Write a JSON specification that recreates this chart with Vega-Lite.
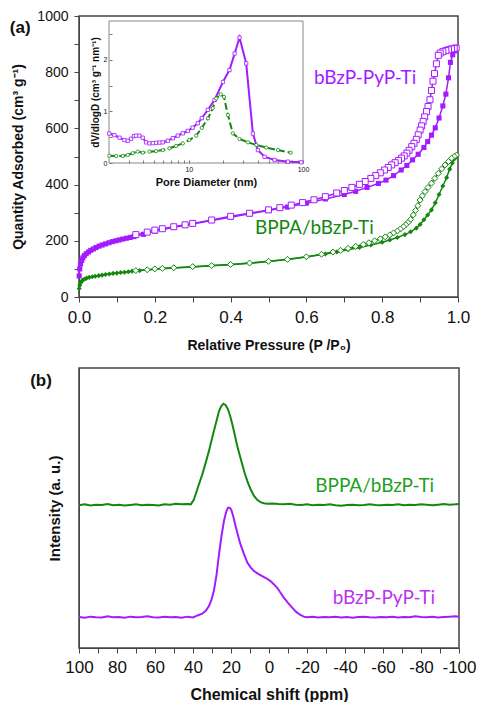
{
  "$schema": "https://vega.github.io/schema/vega-lite/v6.json",
  "padding": {"left": 9, "top": 8, "right": 0, "bottom": 0},
  "background": "white",
  "spacing": 14,
  "datasets": {
    "iso": [
      {"sample":"PyP","branch":"ads","p":0.0005,"q":75},{"sample":"PyP","branch":"ads","p":0.002,"q":100},{"sample":"PyP","branch":"ads","p":0.004,"q":118},{"sample":"PyP","branch":"ads","p":0.007,"q":130},{"sample":"PyP","branch":"ads","p":0.01,"q":139},{"sample":"PyP","branch":"ads","p":0.014,"q":147},{"sample":"PyP","branch":"ads","p":0.019,"q":154},{"sample":"PyP","branch":"ads","p":0.025,"q":160},{"sample":"PyP","branch":"ads","p":0.031,"q":166},{"sample":"PyP","branch":"ads","p":0.038,"q":171},{"sample":"PyP","branch":"ads","p":0.045,"q":176},{"sample":"PyP","branch":"ads","p":0.053,"q":181},{"sample":"PyP","branch":"ads","p":0.061,"q":185},{"sample":"PyP","branch":"ads","p":0.07,"q":189},{"sample":"PyP","branch":"ads","p":0.079,"q":193},{"sample":"PyP","branch":"ads","p":0.088,"q":197},{"sample":"PyP","branch":"ads","p":0.097,"q":200},{"sample":"PyP","branch":"ads","p":0.106,"q":203},{"sample":"PyP","branch":"ads","p":0.115,"q":206},{"sample":"PyP","branch":"ads","p":0.125,"q":209},{"sample":"PyP","branch":"ads","p":0.135,"q":212},{"sample":"PyP","branch":"ads","p":0.145,"q":215},{"sample":"PyP","branch":"ads","p":0.17,"q":223},{"sample":"PyP","branch":"ads","p":0.2,"q":234},{"sample":"PyP","branch":"ads","p":0.25,"q":248},{"sample":"PyP","branch":"ads","p":0.3,"q":260},{"sample":"PyP","branch":"ads","p":0.35,"q":272},{"sample":"PyP","branch":"ads","p":0.4,"q":284},{"sample":"PyP","branch":"ads","p":0.45,"q":296},{"sample":"PyP","branch":"ads","p":0.5,"q":308},{"sample":"PyP","branch":"ads","p":0.55,"q":320},{"sample":"PyP","branch":"ads","p":0.6,"q":334},{"sample":"PyP","branch":"ads","p":0.65,"q":349},{"sample":"PyP","branch":"ads","p":0.7,"q":365},{"sample":"PyP","branch":"ads","p":0.73,"q":376},{"sample":"PyP","branch":"ads","p":0.76,"q":390},{"sample":"PyP","branch":"ads","p":0.79,"q":404},{"sample":"PyP","branch":"ads","p":0.81,"q":416},{"sample":"PyP","branch":"ads","p":0.83,"q":432},{"sample":"PyP","branch":"ads","p":0.85,"q":452},{"sample":"PyP","branch":"ads","p":0.865,"q":468},{"sample":"PyP","branch":"ads","p":0.88,"q":488},{"sample":"PyP","branch":"ads","p":0.895,"q":508},{"sample":"PyP","branch":"ads","p":0.91,"q":532},{"sample":"PyP","branch":"ads","p":0.92,"q":553},{"sample":"PyP","branch":"ads","p":0.93,"q":576},{"sample":"PyP","branch":"ads","p":0.94,"q":602},{"sample":"PyP","branch":"ads","p":0.95,"q":637},{"sample":"PyP","branch":"ads","p":0.96,"q":680},{"sample":"PyP","branch":"ads","p":0.968,"q":722},{"sample":"PyP","branch":"ads","p":0.975,"q":780},{"sample":"PyP","branch":"ads","p":0.98,"q":835},{"sample":"PyP","branch":"ads","p":0.986,"q":862},{"sample":"PyP","branch":"ads","p":0.992,"q":876},
      {"sample":"PyP","branch":"des","p":0.995,"q":886},{"sample":"PyP","branch":"des","p":0.99,"q":885},{"sample":"PyP","branch":"des","p":0.983,"q":883},{"sample":"PyP","branch":"des","p":0.975,"q":880},{"sample":"PyP","branch":"des","p":0.968,"q":877},{"sample":"PyP","branch":"des","p":0.96,"q":873},{"sample":"PyP","branch":"des","p":0.953,"q":868},{"sample":"PyP","branch":"des","p":0.948,"q":860},{"sample":"PyP","branch":"des","p":0.943,"q":830},{"sample":"PyP","branch":"des","p":0.938,"q":795},{"sample":"PyP","branch":"des","p":0.934,"q":768},{"sample":"PyP","branch":"des","p":0.93,"q":735},{"sample":"PyP","branch":"des","p":0.926,"q":702},{"sample":"PyP","branch":"des","p":0.921,"q":678},{"sample":"PyP","branch":"des","p":0.917,"q":660},{"sample":"PyP","branch":"des","p":0.912,"q":641},{"sample":"PyP","branch":"des","p":0.908,"q":625},{"sample":"PyP","branch":"des","p":0.904,"q":609},{"sample":"PyP","branch":"des","p":0.9,"q":594},{"sample":"PyP","branch":"des","p":0.895,"q":577},{"sample":"PyP","branch":"des","p":0.89,"q":561},{"sample":"PyP","branch":"des","p":0.884,"q":547},{"sample":"PyP","branch":"des","p":0.878,"q":535},{"sample":"PyP","branch":"des","p":0.871,"q":522},{"sample":"PyP","branch":"des","p":0.865,"q":512},{"sample":"PyP","branch":"des","p":0.858,"q":502},{"sample":"PyP","branch":"des","p":0.851,"q":494},{"sample":"PyP","branch":"des","p":0.843,"q":486},{"sample":"PyP","branch":"des","p":0.834,"q":478},{"sample":"PyP","branch":"des","p":0.825,"q":470},{"sample":"PyP","branch":"des","p":0.816,"q":461},{"sample":"PyP","branch":"des","p":0.806,"q":452},{"sample":"PyP","branch":"des","p":0.795,"q":442},{"sample":"PyP","branch":"des","p":0.783,"q":432},{"sample":"PyP","branch":"des","p":0.77,"q":422},{"sample":"PyP","branch":"des","p":0.755,"q":411},{"sample":"PyP","branch":"des","p":0.74,"q":401},{"sample":"PyP","branch":"des","p":0.72,"q":390},{"sample":"PyP","branch":"des","p":0.7,"q":379},{"sample":"PyP","branch":"des","p":0.68,"q":370},{"sample":"PyP","branch":"des","p":0.65,"q":357},{"sample":"PyP","branch":"des","p":0.62,"q":346},{"sample":"PyP","branch":"des","p":0.59,"q":336},{"sample":"PyP","branch":"des","p":0.56,"q":327},{"sample":"PyP","branch":"des","p":0.53,"q":318},{"sample":"PyP","branch":"des","p":0.5,"q":310},{"sample":"PyP","branch":"des","p":0.45,"q":298},{"sample":"PyP","branch":"des","p":0.4,"q":287},{"sample":"PyP","branch":"des","p":0.35,"q":274},{"sample":"PyP","branch":"des","p":0.3,"q":262},{"sample":"PyP","branch":"des","p":0.28,"q":257},{"sample":"PyP","branch":"des","p":0.25,"q":250},{"sample":"PyP","branch":"des","p":0.22,"q":243},{"sample":"PyP","branch":"des","p":0.2,"q":238},{"sample":"PyP","branch":"des","p":0.18,"q":231},{"sample":"PyP","branch":"des","p":0.15,"q":222},
      {"sample":"BPPA","branch":"ads","p":0.0005,"q":30},{"sample":"BPPA","branch":"ads","p":0.002,"q":42},{"sample":"BPPA","branch":"ads","p":0.004,"q":50},{"sample":"BPPA","branch":"ads","p":0.007,"q":56},{"sample":"BPPA","branch":"ads","p":0.01,"q":60},{"sample":"BPPA","branch":"ads","p":0.015,"q":64},{"sample":"BPPA","branch":"ads","p":0.02,"q":67},{"sample":"BPPA","branch":"ads","p":0.027,"q":70},{"sample":"BPPA","branch":"ads","p":0.035,"q":72},{"sample":"BPPA","branch":"ads","p":0.043,"q":74},{"sample":"BPPA","branch":"ads","p":0.052,"q":76},{"sample":"BPPA","branch":"ads","p":0.061,"q":78},{"sample":"BPPA","branch":"ads","p":0.07,"q":80},{"sample":"BPPA","branch":"ads","p":0.08,"q":82},{"sample":"BPPA","branch":"ads","p":0.09,"q":84},{"sample":"BPPA","branch":"ads","p":0.1,"q":85},{"sample":"BPPA","branch":"ads","p":0.11,"q":87},{"sample":"BPPA","branch":"ads","p":0.12,"q":88},{"sample":"BPPA","branch":"ads","p":0.13,"q":90},{"sample":"BPPA","branch":"ads","p":0.14,"q":92},{"sample":"BPPA","branch":"ads","p":0.16,"q":94},{"sample":"BPPA","branch":"ads","p":0.18,"q":96},{"sample":"BPPA","branch":"ads","p":0.2,"q":99},{"sample":"BPPA","branch":"ads","p":0.25,"q":103},{"sample":"BPPA","branch":"ads","p":0.3,"q":107},{"sample":"BPPA","branch":"ads","p":0.35,"q":111},{"sample":"BPPA","branch":"ads","p":0.4,"q":115},{"sample":"BPPA","branch":"ads","p":0.45,"q":120},{"sample":"BPPA","branch":"ads","p":0.5,"q":126},{"sample":"BPPA","branch":"ads","p":0.55,"q":133},{"sample":"BPPA","branch":"ads","p":0.6,"q":142},{"sample":"BPPA","branch":"ads","p":0.65,"q":153},{"sample":"BPPA","branch":"ads","p":0.68,"q":160},{"sample":"BPPA","branch":"ads","p":0.71,"q":168},{"sample":"BPPA","branch":"ads","p":0.74,"q":176},{"sample":"BPPA","branch":"ads","p":0.77,"q":185},{"sample":"BPPA","branch":"ads","p":0.8,"q":195},{"sample":"BPPA","branch":"ads","p":0.82,"q":203},{"sample":"BPPA","branch":"ads","p":0.84,"q":212},{"sample":"BPPA","branch":"ads","p":0.86,"q":222},{"sample":"BPPA","branch":"ads","p":0.875,"q":232},{"sample":"BPPA","branch":"ads","p":0.89,"q":245},{"sample":"BPPA","branch":"ads","p":0.9,"q":258},{"sample":"BPPA","branch":"ads","p":0.91,"q":275},{"sample":"BPPA","branch":"ads","p":0.92,"q":292},{"sample":"BPPA","branch":"ads","p":0.93,"q":310},{"sample":"BPPA","branch":"ads","p":0.94,"q":335},{"sample":"BPPA","branch":"ads","p":0.95,"q":365},{"sample":"BPPA","branch":"ads","p":0.96,"q":395},{"sample":"BPPA","branch":"ads","p":0.97,"q":425},{"sample":"BPPA","branch":"ads","p":0.978,"q":455},{"sample":"BPPA","branch":"ads","p":0.985,"q":477},{"sample":"BPPA","branch":"ads","p":0.991,"q":492},{"sample":"BPPA","branch":"ads","p":0.996,"q":500},
      {"sample":"BPPA","branch":"des","p":0.996,"q":505},{"sample":"BPPA","branch":"des","p":0.99,"q":500},{"sample":"BPPA","branch":"des","p":0.983,"q":494},{"sample":"BPPA","branch":"des","p":0.975,"q":482},{"sample":"BPPA","branch":"des","p":0.966,"q":470},{"sample":"BPPA","branch":"des","p":0.957,"q":456},{"sample":"BPPA","branch":"des","p":0.948,"q":440},{"sample":"BPPA","branch":"des","p":0.939,"q":422},{"sample":"BPPA","branch":"des","p":0.93,"q":405},{"sample":"BPPA","branch":"des","p":0.921,"q":390},{"sample":"BPPA","branch":"des","p":0.913,"q":375},{"sample":"BPPA","branch":"des","p":0.906,"q":360},{"sample":"BPPA","branch":"des","p":0.9,"q":345},{"sample":"BPPA","branch":"des","p":0.894,"q":325},{"sample":"BPPA","branch":"des","p":0.888,"q":308},{"sample":"BPPA","branch":"des","p":0.882,"q":292},{"sample":"BPPA","branch":"des","p":0.875,"q":276},{"sample":"BPPA","branch":"des","p":0.868,"q":265},{"sample":"BPPA","branch":"des","p":0.862,"q":257},{"sample":"BPPA","branch":"des","p":0.856,"q":250},{"sample":"BPPA","branch":"des","p":0.848,"q":242},{"sample":"BPPA","branch":"des","p":0.84,"q":235},{"sample":"BPPA","branch":"des","p":0.83,"q":228},{"sample":"BPPA","branch":"des","p":0.82,"q":221},{"sample":"BPPA","branch":"des","p":0.808,"q":214},{"sample":"BPPA","branch":"des","p":0.795,"q":207},{"sample":"BPPA","branch":"des","p":0.78,"q":200},{"sample":"BPPA","branch":"des","p":0.765,"q":193},{"sample":"BPPA","branch":"des","p":0.75,"q":187},{"sample":"BPPA","branch":"des","p":0.73,"q":180},{"sample":"BPPA","branch":"des","p":0.71,"q":173},{"sample":"BPPA","branch":"des","p":0.69,"q":166},{"sample":"BPPA","branch":"des","p":0.67,"q":160},{"sample":"BPPA","branch":"des","p":0.64,"q":152},{"sample":"BPPA","branch":"des","p":0.6,"q":143},{"sample":"BPPA","branch":"des","p":0.55,"q":134},{"sample":"BPPA","branch":"des","p":0.5,"q":127},{"sample":"BPPA","branch":"des","p":0.45,"q":121},{"sample":"BPPA","branch":"des","p":0.4,"q":116},{"sample":"BPPA","branch":"des","p":0.35,"q":112},{"sample":"BPPA","branch":"des","p":0.3,"q":108},{"sample":"BPPA","branch":"des","p":0.25,"q":104},{"sample":"BPPA","branch":"des","p":0.22,"q":102},{"sample":"BPPA","branch":"des","p":0.2,"q":100},{"sample":"BPPA","branch":"des","p":0.18,"q":97},{"sample":"BPPA","branch":"des","p":0.15,"q":94}
    ],
    "psd": [
      {"sample":"PyP","d":2.01,"v":0.57},{"sample":"PyP","d":2.23,"v":0.54},{"sample":"PyP","d":2.47,"v":0.49},{"sample":"PyP","d":2.73,"v":0.445},{"sample":"PyP","d":2.92,"v":0.43},{"sample":"PyP","d":3.12,"v":0.47},{"sample":"PyP","d":3.3,"v":0.52},{"sample":"PyP","d":3.45,"v":0.53},{"sample":"PyP","d":3.69,"v":0.53},{"sample":"PyP","d":3.95,"v":0.49},{"sample":"PyP","d":4.22,"v":0.4},{"sample":"PyP","d":4.52,"v":0.38},{"sample":"PyP","d":4.85,"v":0.385},{"sample":"PyP","d":5.17,"v":0.39},{"sample":"PyP","d":5.55,"v":0.395},{"sample":"PyP","d":5.91,"v":0.4},{"sample":"PyP","d":6.55,"v":0.43},{"sample":"PyP","d":7.25,"v":0.48},{"sample":"PyP","d":8.01,"v":0.53},{"sample":"PyP","d":8.86,"v":0.575},{"sample":"PyP","d":9.8,"v":0.62},{"sample":"PyP","d":10.8,"v":0.685},{"sample":"PyP","d":12.0,"v":0.77},{"sample":"PyP","d":13.0,"v":0.87},{"sample":"PyP","d":14.7,"v":1.03},{"sample":"PyP","d":16.8,"v":1.22},{"sample":"PyP","d":19.9,"v":1.57},{"sample":"PyP","d":22.7,"v":1.8},{"sample":"PyP","d":25.2,"v":2.12},{"sample":"PyP","d":27.8,"v":2.43},{"sample":"PyP","d":31.8,"v":1.93},{"sample":"PyP","d":36.4,"v":0.57},{"sample":"PyP","d":40.3,"v":0.25},{"sample":"PyP","d":46.1,"v":0.12},{"sample":"PyP","d":56.4,"v":0.058},{"sample":"PyP","d":73.8,"v":0.026},{"sample":"PyP","d":96.6,"v":0.013},
      {"sample":"BPPA","d":2.01,"v":0.14},{"sample":"BPPA","d":2.31,"v":0.135},{"sample":"BPPA","d":2.64,"v":0.135},{"sample":"BPPA","d":2.92,"v":0.155},{"sample":"BPPA","d":3.23,"v":0.19},{"sample":"BPPA","d":3.57,"v":0.22},{"sample":"BPPA","d":3.95,"v":0.2},{"sample":"BPPA","d":4.52,"v":0.22},{"sample":"BPPA","d":5.17,"v":0.23},{"sample":"BPPA","d":5.91,"v":0.25},{"sample":"BPPA","d":6.76,"v":0.285},{"sample":"BPPA","d":7.74,"v":0.33},{"sample":"BPPA","d":8.86,"v":0.38},{"sample":"BPPA","d":10.1,"v":0.445},{"sample":"BPPA","d":11.6,"v":0.53},{"sample":"BPPA","d":13.0,"v":0.68},{"sample":"BPPA","d":14.7,"v":0.865},{"sample":"BPPA","d":16.2,"v":1.06},{"sample":"BPPA","d":17.4,"v":1.25},{"sample":"BPPA","d":19.0,"v":1.33},{"sample":"BPPA","d":20.3,"v":1.28},{"sample":"BPPA","d":22.0,"v":0.93},{"sample":"BPPA","d":24.3,"v":0.574},{"sample":"BPPA","d":27.8,"v":0.465},{"sample":"BPPA","d":33.0,"v":0.4},{"sample":"BPPA","d":39.0,"v":0.35},{"sample":"BPPA","d":47.7,"v":0.3},{"sample":"BPPA","d":60.4,"v":0.25},{"sample":"BPPA","d":78.0,"v":0.2}
    ],
    "nmr": [
      {"sample":"BPPA","ppm":100,"i":0.51},{"sample":"BPPA","ppm":97,"i":0.513},{"sample":"BPPA","ppm":94,"i":0.509},{"sample":"BPPA","ppm":91,"i":0.512},{"sample":"BPPA","ppm":88,"i":0.511},{"sample":"BPPA","ppm":85,"i":0.514},{"sample":"BPPA","ppm":82,"i":0.51},{"sample":"BPPA","ppm":79,"i":0.512},{"sample":"BPPA","ppm":76,"i":0.509},{"sample":"BPPA","ppm":73,"i":0.511},{"sample":"BPPA","ppm":70,"i":0.513},{"sample":"BPPA","ppm":67,"i":0.51},{"sample":"BPPA","ppm":64,"i":0.512},{"sample":"BPPA","ppm":61,"i":0.511},{"sample":"BPPA","ppm":58,"i":0.509},{"sample":"BPPA","ppm":55,"i":0.513},{"sample":"BPPA","ppm":52,"i":0.512},{"sample":"BPPA","ppm":49,"i":0.515},{"sample":"BPPA","ppm":46,"i":0.513},{"sample":"BPPA","ppm":43,"i":0.514},{"sample":"BPPA","ppm":41.2,"i":0.513},{"sample":"BPPA","ppm":39.5,"i":0.53},{"sample":"BPPA","ppm":38.6,"i":0.549},{"sample":"BPPA","ppm":37,"i":0.582},{"sample":"BPPA","ppm":35.1,"i":0.62},{"sample":"BPPA","ppm":33.3,"i":0.662},{"sample":"BPPA","ppm":31.6,"i":0.704},{"sample":"BPPA","ppm":30.3,"i":0.74},{"sample":"BPPA","ppm":29,"i":0.775},{"sample":"BPPA","ppm":27.6,"i":0.812},{"sample":"BPPA","ppm":26.3,"i":0.846},{"sample":"BPPA","ppm":25,"i":0.865},{"sample":"BPPA","ppm":24,"i":0.8725},{"sample":"BPPA","ppm":22.8,"i":0.867},{"sample":"BPPA","ppm":21.6,"i":0.8525},{"sample":"BPPA","ppm":20.4,"i":0.828},{"sample":"BPPA","ppm":19.3,"i":0.799},{"sample":"BPPA","ppm":18,"i":0.761},{"sample":"BPPA","ppm":16.7,"i":0.721},{"sample":"BPPA","ppm":15.4,"i":0.688},{"sample":"BPPA","ppm":14.1,"i":0.656},{"sample":"BPPA","ppm":12.8,"i":0.625},{"sample":"BPPA","ppm":11.4,"i":0.596},{"sample":"BPPA","ppm":9.7,"i":0.567},{"sample":"BPPA","ppm":7.9,"i":0.543},{"sample":"BPPA","ppm":6.2,"i":0.529},{"sample":"BPPA","ppm":4.5,"i":0.521},{"sample":"BPPA","ppm":2.7,"i":0.517},{"sample":"BPPA","ppm":1,"i":0.515},{"sample":"BPPA","ppm":-2,"i":0.516},{"sample":"BPPA","ppm":-5,"i":0.514},{"sample":"BPPA","ppm":-8,"i":0.513},{"sample":"BPPA","ppm":-11,"i":0.515},{"sample":"BPPA","ppm":-14,"i":0.512},{"sample":"BPPA","ppm":-17,"i":0.511},{"sample":"BPPA","ppm":-20,"i":0.513},{"sample":"BPPA","ppm":-23,"i":0.51},{"sample":"BPPA","ppm":-26,"i":0.512},{"sample":"BPPA","ppm":-29,"i":0.511},{"sample":"BPPA","ppm":-32,"i":0.513},{"sample":"BPPA","ppm":-35,"i":0.51},{"sample":"BPPA","ppm":-38,"i":0.508},{"sample":"BPPA","ppm":-41,"i":0.511},{"sample":"BPPA","ppm":-44,"i":0.512},{"sample":"BPPA","ppm":-47,"i":0.51},{"sample":"BPPA","ppm":-50,"i":0.511},{"sample":"BPPA","ppm":-53,"i":0.513},{"sample":"BPPA","ppm":-56,"i":0.511},{"sample":"BPPA","ppm":-59,"i":0.51},{"sample":"BPPA","ppm":-62,"i":0.512},{"sample":"BPPA","ppm":-65,"i":0.511},{"sample":"BPPA","ppm":-68,"i":0.513},{"sample":"BPPA","ppm":-71,"i":0.51},{"sample":"BPPA","ppm":-74,"i":0.512},{"sample":"BPPA","ppm":-77,"i":0.511},{"sample":"BPPA","ppm":-80,"i":0.513},{"sample":"BPPA","ppm":-83,"i":0.512},{"sample":"BPPA","ppm":-86,"i":0.51},{"sample":"BPPA","ppm":-89,"i":0.512},{"sample":"BPPA","ppm":-92,"i":0.514},{"sample":"BPPA","ppm":-95,"i":0.512},{"sample":"BPPA","ppm":-98,"i":0.513},{"sample":"BPPA","ppm":-100,"i":0.514},
      {"sample":"PyP","ppm":100,"i":0.111},{"sample":"PyP","ppm":97,"i":0.108},{"sample":"PyP","ppm":94,"i":0.112},{"sample":"PyP","ppm":91,"i":0.11},{"sample":"PyP","ppm":88,"i":0.109},{"sample":"PyP","ppm":85,"i":0.113},{"sample":"PyP","ppm":82,"i":0.11},{"sample":"PyP","ppm":79,"i":0.111},{"sample":"PyP","ppm":76,"i":0.108},{"sample":"PyP","ppm":73,"i":0.112},{"sample":"PyP","ppm":70,"i":0.11},{"sample":"PyP","ppm":67,"i":0.111},{"sample":"PyP","ppm":64,"i":0.113},{"sample":"PyP","ppm":61,"i":0.11},{"sample":"PyP","ppm":58,"i":0.109},{"sample":"PyP","ppm":55,"i":0.112},{"sample":"PyP","ppm":52,"i":0.11},{"sample":"PyP","ppm":49,"i":0.111},{"sample":"PyP","ppm":46,"i":0.108},{"sample":"PyP","ppm":43,"i":0.112},{"sample":"PyP","ppm":40,"i":0.109},{"sample":"PyP","ppm":38.5,"i":0.114},{"sample":"PyP","ppm":37,"i":0.118},{"sample":"PyP","ppm":35.1,"i":0.1225},{"sample":"PyP","ppm":33.3,"i":0.133},{"sample":"PyP","ppm":31.6,"i":0.15},{"sample":"PyP","ppm":30.3,"i":0.172},{"sample":"PyP","ppm":29,"i":0.204},{"sample":"PyP","ppm":27.6,"i":0.262},{"sample":"PyP","ppm":26.3,"i":0.335},{"sample":"PyP","ppm":25,"i":0.4},{"sample":"PyP","ppm":23.7,"i":0.454},{"sample":"PyP","ppm":22.6,"i":0.485},{"sample":"PyP","ppm":21.6,"i":0.501},{"sample":"PyP","ppm":20.7,"i":0.501},{"sample":"PyP","ppm":19.9,"i":0.495},{"sample":"PyP","ppm":18.8,"i":0.47},{"sample":"PyP","ppm":17.6,"i":0.436},{"sample":"PyP","ppm":16.3,"i":0.402},{"sample":"PyP","ppm":15,"i":0.37},{"sample":"PyP","ppm":13.2,"i":0.336},{"sample":"PyP","ppm":11.4,"i":0.305},{"sample":"PyP","ppm":9.6,"i":0.287},{"sample":"PyP","ppm":7.9,"i":0.275},{"sample":"PyP","ppm":5.7,"i":0.265},{"sample":"PyP","ppm":3.6,"i":0.257},{"sample":"PyP","ppm":1.4,"i":0.249},{"sample":"PyP","ppm":-0.8,"i":0.239},{"sample":"PyP","ppm":-2.5,"i":0.228},{"sample":"PyP","ppm":-4.3,"i":0.215},{"sample":"PyP","ppm":-6,"i":0.198},{"sample":"PyP","ppm":-7.8,"i":0.18},{"sample":"PyP","ppm":-10,"i":0.161},{"sample":"PyP","ppm":-12.2,"i":0.144},{"sample":"PyP","ppm":-14.3,"i":0.129},{"sample":"PyP","ppm":-16.5,"i":0.118},{"sample":"PyP","ppm":-18.3,"i":0.112},{"sample":"PyP","ppm":-20,"i":0.11},{"sample":"PyP","ppm":-23,"i":0.112},{"sample":"PyP","ppm":-26,"i":0.109},{"sample":"PyP","ppm":-29,"i":0.111},{"sample":"PyP","ppm":-32,"i":0.11},{"sample":"PyP","ppm":-35,"i":0.112},{"sample":"PyP","ppm":-38,"i":0.109},{"sample":"PyP","ppm":-41,"i":0.111},{"sample":"PyP","ppm":-44,"i":0.108},{"sample":"PyP","ppm":-47,"i":0.111},{"sample":"PyP","ppm":-50,"i":0.112},{"sample":"PyP","ppm":-53,"i":0.11},{"sample":"PyP","ppm":-56,"i":0.109},{"sample":"PyP","ppm":-59,"i":0.111},{"sample":"PyP","ppm":-62,"i":0.11},{"sample":"PyP","ppm":-65,"i":0.112},{"sample":"PyP","ppm":-68,"i":0.109},{"sample":"PyP","ppm":-71,"i":0.111},{"sample":"PyP","ppm":-74,"i":0.11},{"sample":"PyP","ppm":-77,"i":0.113},{"sample":"PyP","ppm":-80,"i":0.111},{"sample":"PyP","ppm":-83,"i":0.11},{"sample":"PyP","ppm":-86,"i":0.112},{"sample":"PyP","ppm":-89,"i":0.109},{"sample":"PyP","ppm":-92,"i":0.111},{"sample":"PyP","ppm":-95,"i":0.112},{"sample":"PyP","ppm":-98,"i":0.113},{"sample":"PyP","ppm":-100,"i":0.112}
    ],
    "labelsA": [
      {"sample":"PyP","label":"bBzP-PyP-Ti","p":0.755,"q":779},
      {"sample":"BPPA","label":"BPPA/bBzP-Ti","p":0.621,"q":247}
    ],
    "labelsB": [
      {"sample":"BPPA","label":"BPPA/bBzP-Ti","ppm":-86.9,"i":0.579},
      {"sample":"PyP","label":"bBzP-PyP-Ti","ppm":-87.4,"i":0.1775}
    ]
  },
  "vconcat": [
    {
      "width": 379,
      "height": 281,
      "layer": [
        {
          "encoding": {
            "x": {"field": "p", "type": "quantitative", "scale": {"domain": [0, 1]},
              "axis": {"values": [0,0.1,0.2,0.3,0.4,0.5,0.6,0.7,0.8,0.9,1], "labelExpr": "round(datum.value*10)%2==0 ? format(datum.value,'.1f') : ''", "title": "Relative Pressure (P /P₀)", "labelFontSize": 17, "labelPadding": 7, "titlePadding": 13}},
            "y": {"field": "q", "type": "quantitative", "scale": {"domain": [0, 1000]},
              "axis": {"values": [0,100,200,300,400,500,600,700,800,900,1000], "labelExpr": "datum.value%200==0 ? datum.value : ''", "title": "Quantity Adsorbed (cm³ g⁻¹)", "labelFontSize": 14, "labelPadding": 6, "titlePadding": 11}}
          },
          "layer": [
            {"data": {"name": "iso"}, "mark": {"type": "line", "strokeWidth": 1.5},
              "encoding": {"color": {"field": "sample", "type": "nominal", "scale": {"domain": ["PyP", "BPPA"], "range": ["#a31cff", "#14870f"]}, "legend": null}, "detail": {"field": "branch"}}},
            {"data": {"name": "iso"}, "transform": [{"filter": "datum.branch=='ads'"}], "mark": {"type": "point", "filled": true, "size": 26, "opacity": 1},
              "encoding": {"color": {"field": "sample", "type": "nominal", "scale": {"domain": ["PyP", "BPPA"], "range": ["#a31cff", "#14870f"]}, "legend": null}, "shape": {"field": "sample", "type": "nominal", "scale": {"domain": ["PyP", "BPPA"], "range": ["square", "diamond"]}, "legend": null}}},
            {"data": {"name": "iso"}, "transform": [{"filter": "datum.branch=='des'"}], "mark": {"type": "point", "filled": false, "fill": "white", "size": 36, "strokeWidth": 1, "opacity": 1},
              "encoding": {"color": {"field": "sample", "type": "nominal", "scale": {"domain": ["PyP", "BPPA"], "range": ["#a31cff", "#14870f"]}, "legend": null}, "shape": {"field": "sample", "type": "nominal", "scale": {"domain": ["PyP", "BPPA"], "range": ["square", "diamond"]}, "legend": null}}},
            {"data": {"name": "labelsA"}, "mark": {"type": "text", "font": "Lato", "fontSize": 19, "align": "center", "baseline": "middle"},
              "encoding": {"text": {"field": "label"}, "color": {"field": "sample", "type": "nominal", "scale": {"domain": ["PyP", "BPPA"], "range": ["#bb33ee", "#1f9e1f"]}, "legend": null}}},
            {"data": {"values": [{"label": "(a)", "p": -0.155, "q": 957}]}, "mark": {"type": "text", "font": "Liberation Sans", "fontWeight": "bold", "fontSize": 17, "align": "center", "baseline": "middle", "color": "#111"},
              "encoding": {"text": {"field": "label"}}}
          ]
        },
        {
          "encoding": {
            "x": {"field": "d", "type": "quantitative", "scale": {"type": "log", "domain": [2, 100], "range": [30, 224]},
              "axis": {"orient": "bottom", "offset": -134, "values": [3,4,5,6,7,8,9,10,20,30,40,50,60,70,80,90,100], "labelExpr": "datum.value==10||datum.value==100 ? datum.value : ''", "title": "Pore Diameter (nm)", "labelFontSize": 7, "titleFontSize": 11, "tickSize": -3, "labelPadding": 5, "titlePadding": 4, "domain": false, "tickColor": "#777"}},
            "y": {"field": "v", "type": "quantitative", "scale": {"domain": [0, 2.75], "range": [147, 5]},
              "axis": {"orient": "left", "offset": -30, "values": [0,0.5,1,1.5,2,2.5], "labelExpr": "datum.value%1==0 ? datum.value : ''", "title": "dV/dlogD (cm³ g⁻¹ nm⁻¹)", "labelFontSize": 7, "titleFontSize": 10, "tickSize": -3, "labelPadding": 5, "titlePadding": 3, "domain": false, "tickColor": "#777"}}
          },
          "layer": [
            {"data": {"values": [{"d": 2, "d2": 100, "v": 0, "v2": 2.75}]}, "mark": {"type": "rect", "filled": false, "stroke": "#888", "strokeWidth": 1},
              "encoding": {"x2": {"field": "d2"}, "y2": {"field": "v2"}}},
            {"data": {"name": "psd"}, "mark": {"type": "line", "strokeWidth": 2},
              "encoding": {"color": {"field": "sample", "type": "nominal", "scale": {"domain": ["PyP", "BPPA"], "range": ["#a31cff", "#14870f"]}, "legend": null}, "strokeDash": {"field": "sample", "type": "nominal", "scale": {"domain": ["PyP", "BPPA"], "range": [[1, 0], [7, 3]]}, "legend": null}}},
            {"data": {"name": "psd"}, "mark": {"type": "point", "filled": false, "fill": "white", "size": 11, "strokeWidth": 0.8, "opacity": 1},
              "encoding": {"color": {"field": "sample", "type": "nominal", "scale": {"domain": ["PyP", "BPPA"], "range": ["#c070ff", "#3aa83a"]}, "legend": null}, "shape": {"field": "sample", "type": "nominal", "scale": {"domain": ["PyP", "BPPA"], "range": ["square", "circle"]}, "legend": null}}}
          ]
        }
      ],
      "resolve": {"scale": {"x": "independent", "y": "independent", "shape": "independent", "color": "independent", "strokeDash": "independent"}}
    },
    {
      "width": 380,
      "height": 280,
      "encoding": {
        "x": {"field": "ppm", "type": "quantitative", "scale": {"domain": [-100, 100], "reverse": true},
          "axis": {"values": [-100,-90,-80,-70,-60,-50,-40,-30,-20,-10,0,10,20,30,40,50,60,70,80,90,100], "labelExpr": "round(datum.value)%20==0 ? datum.value : ''", "title": "Chemical shift (ppm)", "labelFontSize": 17, "labelPadding": 6, "titleFontSize": 16, "titlePadding": 11}},
        "y": {"field": "i", "type": "quantitative", "scale": {"domain": [0, 1]},
          "axis": {"labels": false, "ticks": false, "values": [], "title": "Intensity (a. u.)", "titleFontSize": 15, "titlePadding": 17}}
      },
      "layer": [
        {"data": {"name": "nmr"}, "mark": {"type": "line", "strokeWidth": 2},
          "encoding": {"color": {"field": "sample", "type": "nominal", "scale": {"domain": ["PyP", "BPPA"], "range": ["#a31cff", "#14870f"]}, "legend": null}}},
        {"data": {"name": "labelsB"}, "mark": {"type": "text", "font": "Lato", "fontSize": 19, "align": "right", "baseline": "middle"},
          "encoding": {"text": {"field": "label"}, "color": {"field": "sample", "type": "nominal", "scale": {"domain": ["PyP", "BPPA"], "range": ["#bb33ee", "#1f9e1f"]}, "legend": null}}},
        {"data": {"values": [{"label": "(b)", "ppm": 120, "i": 0.953}]}, "mark": {"type": "text", "font": "Liberation Sans", "fontWeight": "bold", "fontSize": 17, "align": "center", "baseline": "middle", "color": "#111"},
          "encoding": {"text": {"field": "label"}}}
      ],
      "resolve": {"scale": {"color": "independent"}}
    }
  ],
  "config": {
    "view": {"stroke": "#444", "strokeWidth": 1.5},
    "axis": {"grid": false, "labelFont": "Liberation Sans", "titleFont": "Liberation Sans", "labelColor": "#111", "titleColor": "#111", "domainColor": "#444", "tickColor": "#444", "labelFontSize": 15, "titleFontSize": 14, "titleFontWeight": "bold", "tickSize": 5, "labelFlush": false, "labelOverlap": false}
  }
}
